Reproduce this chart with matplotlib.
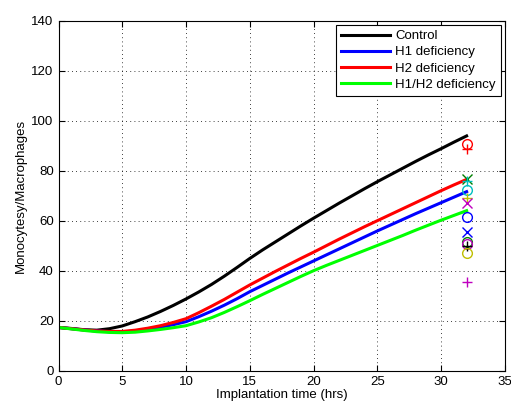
import matplotlib
matplotlib.use('Agg')
import matplotlib.pyplot as plt

plt.rcParams['font.family'] = ['Liberation Sans', 'DejaVu Sans']

# model curves, one value per hour
t = list(range(0, 33))
control = [17.3, 16.9, 16.4, 16.2, 16.8, 17.9, 19.6, 21.5, 23.7, 26.1, 28.7,
           31.5, 34.5, 37.8, 41.3, 44.9, 48.3, 51.5, 54.7, 57.9, 61.0,
           64.0, 67.0, 69.9, 72.8, 75.6, 78.3, 81.0, 83.7, 86.3, 88.8, 91.4, 93.9]
h1 = [17.3, 16.8, 16.3, 15.9, 15.6, 15.5, 15.9, 16.6, 17.4, 18.4, 19.6,
      21.6, 23.8, 26.2, 28.8, 31.6, 34.1, 36.6, 39.1, 41.5, 43.9,
      46.3, 48.7, 51.1, 53.5, 55.9, 58.2, 60.5, 62.8, 65.0, 67.2, 69.4, 71.6]
h2 = [17.3, 16.8, 16.3, 15.9, 15.7, 15.7, 16.2, 17.0, 18.0, 19.3, 20.8,
      23.2, 25.8, 28.5, 31.4, 34.3, 37.0, 39.7, 42.3, 44.9, 47.4,
      50.0, 52.6, 55.1, 57.6, 60.0, 62.4, 64.8, 67.2, 69.6, 72.0, 74.3, 76.5]
h1h2 = [17.3, 16.7, 16.1, 15.6, 15.3, 15.2, 15.4, 15.9, 16.5, 17.2, 18.0,
        19.5, 21.2, 23.3, 25.6, 28.0, 30.5, 32.9, 35.3, 37.7, 40.0,
        42.1, 44.1, 46.1, 48.1, 50.1, 52.1, 54.1, 56.2, 58.2, 60.2, 62.1, 64.0]

# experimental points at t = 32 h
exp_t = 32
exp_vals = [90.5, 88.5, 76.5, 76.0, 72.3, 69.0, 67.2, 61.6, 55.6, 51.4, 50.7, 50.0, 47.2, 35.4]
exp_marks = ['o', '+', 'x', '+', 'o', '+', 'x', 'o', 'x', 'o', 'o', '+', 'o', '+']
exp_cols = ['r', 'r', 'g', 'c', 'c', 'y', 'm', 'b', 'b', 'g', 'm', 'k', 'y', 'm']

fig = plt.figure(figsize=(5.11, 4.07), dpi=100)
ax = fig.add_axes([0.1145, 0.0892, 0.8735, 0.86])

ax.plot(t, control, color='k', lw=2.2, label='Control')
ax.plot(t, h1, color='b', lw=2.2, label='H1 deficiency')
ax.plot(t, h2, color='r', lw=2.2, label='H2 deficiency')
ax.plot(t, h1h2, color='#00ff00', lw=2.2, label='H1/H2 deficiency')

for v, m, c in zip(exp_vals, exp_marks, exp_cols):
    ax.plot(exp_t, v, marker=m, color=c, ms=7, mfc='none', mew=1, ls='none')

ax.set_xlim(0, 35)
ax.set_ylim(0, 140)
ax.set_xticks(range(0, 36, 5))
ax.set_yticks(range(0, 141, 20))
ax.tick_params(direction='in', top=True, right=True, labelsize=9.5, length=4)
ax.grid(True, color='k', linestyle=(0, (1, 4)), linewidth=0.6)
ax.set_xlabel('Implantation time (hrs)', fontsize=9.5, labelpad=1)
ax.set_ylabel('Monocytesy/Macrophages', fontsize=9.5, labelpad=3)

leg = ax.legend(loc='upper right', fontsize=9.5, handlelength=3.7, fancybox=False,
                framealpha=1, edgecolor='k', borderaxespad=0.3, labelspacing=0.3,
                handletextpad=0.4, borderpad=0.4)
leg.get_frame().set_linewidth(0.8)

fig.savefig('out.png', dpi=100)
